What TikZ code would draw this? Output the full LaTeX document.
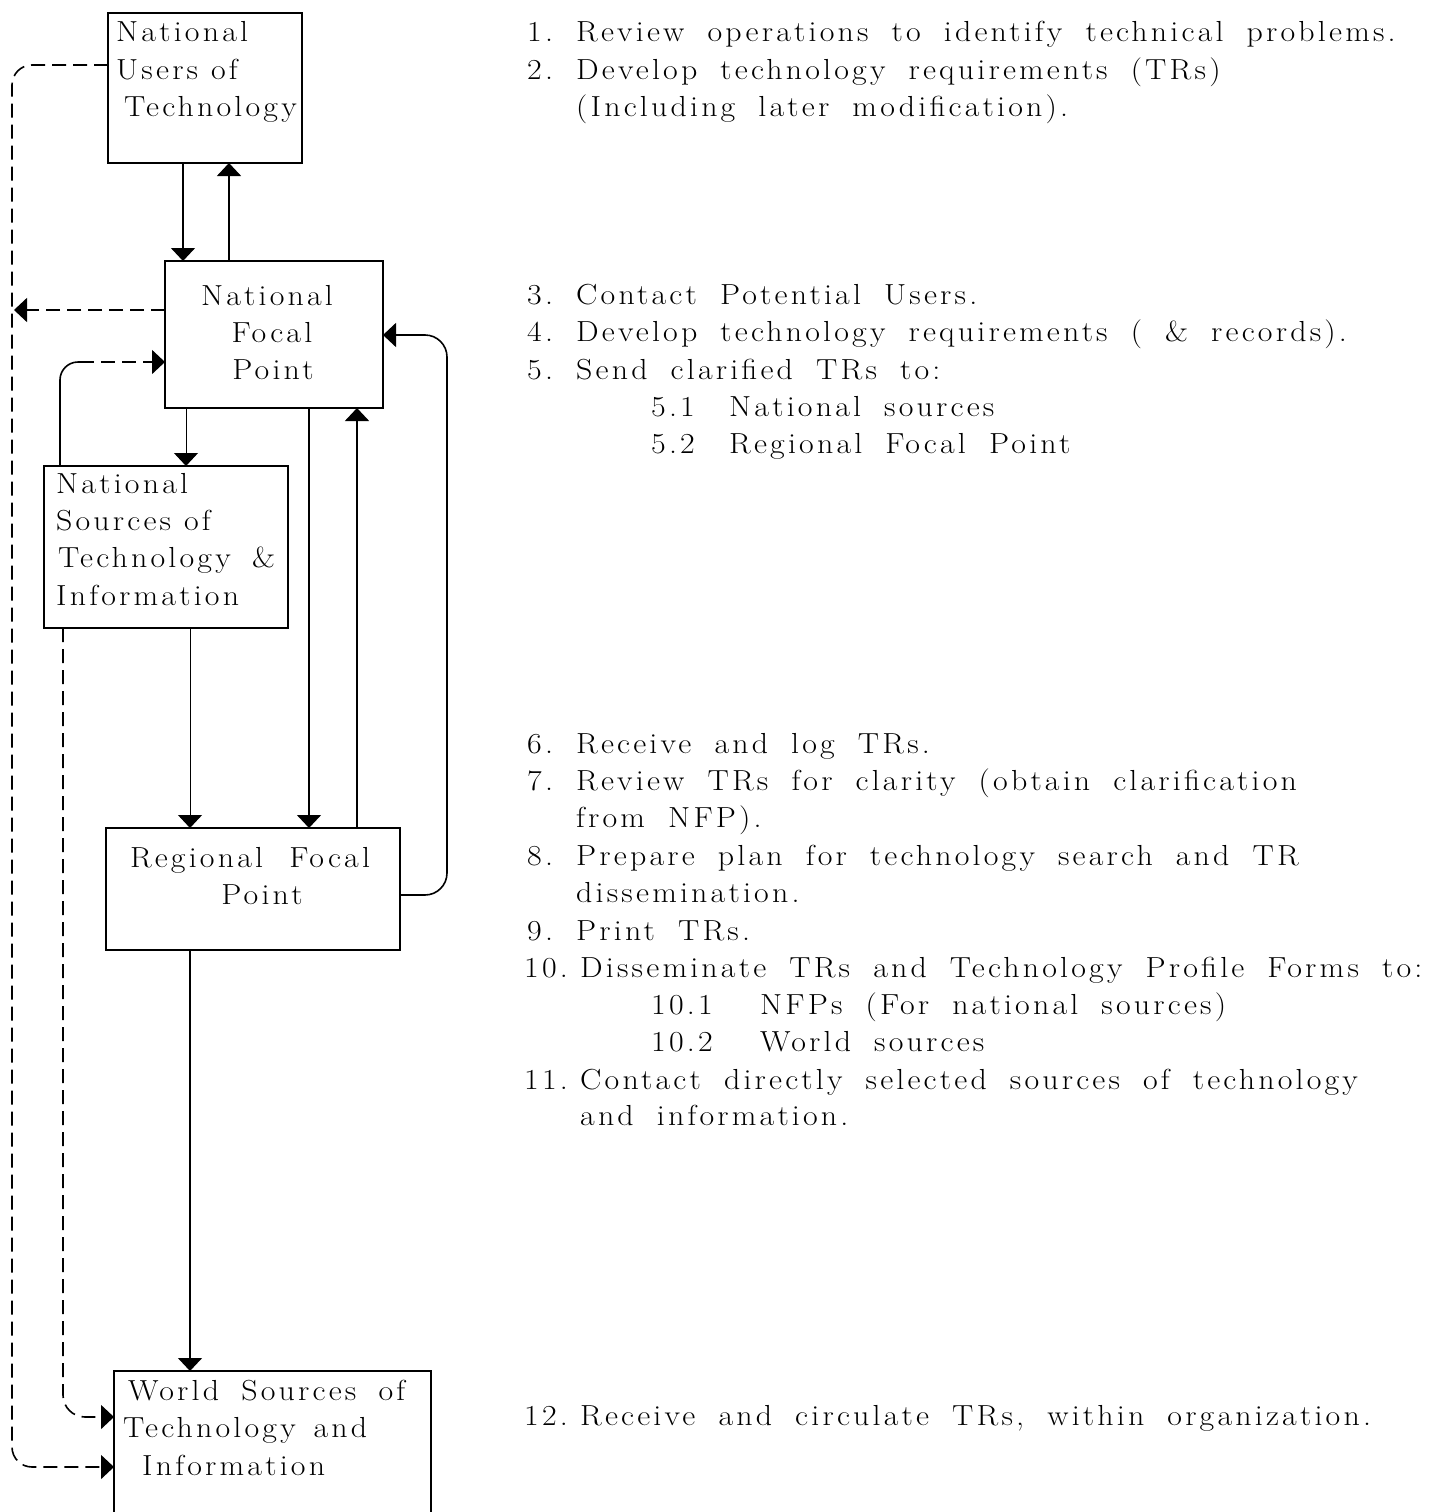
\documentclass[tikz,border=0pt]{standalone}
\usepackage{fontspec}
\setmainfont{Latin Modern Roman}[LetterSpace=11, FakeStretch=1.1]
\newfontfamily\listfont{Latin Modern Roman}[LetterSpace=11, FakeStretch=1.1, WordSpace=1.8]
\usetikzlibrary{arrows.meta}
\newcommand\fitw[2]{\makebox[#1pt][s]{#2}}
\begin{document}
\begin{tikzpicture}[x=1pt,y=-1pt,
  box/.style={draw, line width=2.2pt, rectangle, inner sep=0pt, outer sep=0pt},
  lbl/.style={anchor=base west, inner sep=0pt, font=\fontsize{29}{37}\selectfont},
  lblc/.style={lbl, anchor=base},
  itm/.style={lbl, font=\listfont\fontsize{29}{37}\selectfont},
  arr/.style={line width=1.6pt, -{Triangle[width=24pt,length=13pt]}},
  thinarr/.style={arr, line width=1pt},
  darr/.style={arr, dash pattern=on 14pt off 7pt}]
\useasboundingbox[fill=white] (0,0) rectangle (1445,1512);

% boxes
\node[box, minimum width=194pt, minimum height=150pt] (nut) at (205,88) {};
\node[box, minimum width=218pt, minimum height=147pt] (nfp) at (274,334.5) {};
\node[box, minimum width=244pt, minimum height=162pt] (nst) at (166,547) {};
\node[box, minimum width=294pt, minimum height=122pt] (rfp) at (253,889) {};
\node[box, minimum width=317pt, minimum height=154pt] (wsr) at (272.5,1448) {};

% box labels
\node[lbl] (nut1) at (116,42) {National};
\node[lbl] (nut2) at (116,79) {Users of};
\node[lbl] (nut3) at (124,116) {Technology};
\node[lblc] (nfp1) at (267,305) {National};
\node[lblc] (nfp2) at (272,342) {Focal};
\node[lblc] (nfp3) at (273,379) {Point};
\node[lbl] (nst1) at (56,493) {National};
\node[lbl] (nst2) at (56,530) {Sources of};
\node[lbl] (nst3) at (58,567) {\fitw{217}{Technology \&}};
\node[lbl] (nst4) at (56,605) {Information};
\node[lblc] (rfp1) at (250,867) {\fitw{240}{Regional Focal}};
\node[lblc] (rfp2) at (262,904) {Point};
\node[lbl] (wsr1) at (128,1400) {\fitw{277}{World Sources of}};
\node[lbl] (wsr2) at (123,1437) {\fitw{244}{Technology and}};
\node[lbl] (wsr3) at (142,1475) {Information};

% connectors
\draw[arr] ([xshift=-22pt]nut.south) -- ([xshift=-91pt]nfp.north);
\draw[arr] ([xshift=-45pt]nfp.north) -- ([xshift=24pt]nut.south);
\coordinate (lhit) at (14,310);
\draw[darr] ([yshift=24.5pt]nfp.west) -- (lhit);
\draw[darr, rounded corners=20pt] ([yshift=23pt]nut.west) -- (12,65) -- (12,1467) -- ([yshift=-19pt]wsr.west);
\draw[darr, rounded corners=22pt] ([xshift=-103pt]nst.south) -- (63,1417) -- ([yshift=31pt]wsr.west);
\coordinate (nstup) at (80,362);
\draw[line width=1.6pt, rounded corners=18pt] ([xshift=-106pt]nst.north) -- (60,362) -- (nstup);
\draw[darr] (nstup) -- ([yshift=-27.5pt]nfp.west);
\draw[thinarr] ([xshift=-88pt]nfp.south) -- ([xshift=20pt]nst.north);
\draw[thinarr] ([xshift=24pt]nst.south) -- ([xshift=-63pt]rfp.north);
\draw[arr] ([xshift=35pt]nfp.south) -- ([xshift=56pt]rfp.north);
\draw[arr] ([xshift=104pt]rfp.north) -- ([xshift=83pt]nfp.south);
\draw[arr, rounded corners=22pt] ([yshift=-6pt]rfp.east) -- (447,895) -- (447,335) -- ([yshift=-0.5pt]nfp.east);
\draw[arr] ([xshift=-63pt]rfp.south) -- ([xshift=-82.5pt]wsr.north);

% right-hand list
\node[itm] (n1) at (527,42) {1.};      \node[itm] (t1) at (576,42) {Review operations to identify technical problems.};
\node[itm] (n2) at (527,79) {2.};      \node[itm] (t2) at (576,79) {Develop technology requirements (TRs)};
\node[itm] (t2b) at (576,116) {(Including later modification).};
\node[itm] (n3) at (527,304) {3.};     \node[itm] (t3) at (576,304) {Contact Potential Users.};
\node[itm] (n4) at (527,341) {4.};     \node[itm] (t4) at (576,341) {Develop technology requirements ( \& records).};
\node[itm] (n5) at (527,379) {5.};     \node[itm] (t5) at (576,379) {Send clarified TRs to:};
\node[itm] (n51) at (651,416) {5.1};   \node[itm] (t51) at (729,416) {National sources};
\node[itm] (n52) at (651,453) {5.2};   \node[itm] (t52) at (729,453) {Regional Focal Point};
\node[itm] (n6) at (527,753) {6.};     \node[itm] (t6) at (576,753) {Receive and log TRs.};
\node[itm] (n7) at (527,790) {7.};     \node[itm] (t7) at (576,790) {Review TRs for clarity (obtain clarification};
\node[itm] (t7b) at (576,827) {from NFP).};
\node[itm] (n8) at (527,865) {8.};     \node[itm] (t8) at (576,865) {Prepare plan for technology search and TR};
\node[itm] (t8b) at (576,902) {dissemination.};
\node[itm] (n9) at (527,940) {9.};     \node[itm] (t9) at (576,940) {Print TRs.};
\node[itm] (n10) at (524,977) {10.};   \node[itm] (t10) at (580,977) {Disseminate TRs and Technology Profile Forms to:};
\node[itm] (n101) at (651,1014) {10.1}; \node[itm] (t101) at (760,1014) {NFPs (For national sources)};
\node[itm] (n102) at (651,1051) {10.2}; \node[itm] (t102) at (760,1051) {World sources};
\node[itm] (n11) at (524,1089) {11.};  \node[itm] (t11) at (580,1089) {Contact directly selected sources of technology};
\node[itm] (t11b) at (580,1125) {and information.};
\node[itm] (n12) at (524,1425) {12.};  \node[itm] (t12) at (580,1425) {Receive and circulate TRs, within organization.};
\end{tikzpicture}
\end{document}
